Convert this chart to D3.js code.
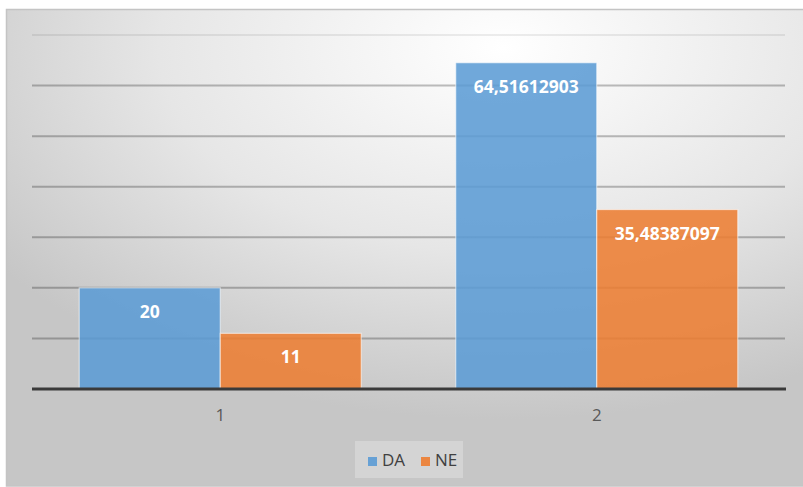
<!DOCTYPE html>
<html>
<head>
<meta charset="utf-8">
<script src="https://cdn.jsdelivr.net/npm/d3@7"></script>
<style>
  html, body { margin: 0; padding: 0; background: #fff; }
  svg { display: block; font-family: "Open Sans", "Noto Sans", sans-serif; }
</style>
</head>
<body>
<div id="chart"></div>
<script>
const categories = ["1", "2"];
const seriesNames = ["DA", "NE"];
const daValues = [20, 64.51612903];
const neValues = [11, 35.48387097];
const yTicks = [0, 10, 20, 30, 40, 50, 60, 70];

const seriesColors = { "DA": "#5B9BD5", "NE": "#ED7D31" };

function init() {
    var w = 803, h = 487;
    var plot = { left: 32, right: 785, top: 35, bottom: 389 };

    var svg = d3.select("#chart").append("svg")
        .attr("width", w)
        .attr("height", h);

    // background gradient like the excel style
    var defs = svg.append("defs");
    var grad = defs.append("radialGradient")
        .attr("id", "bg")
        .attr("cx", "0.62").attr("cy", "0.08").attr("r", "0.78");
    grad.append("stop").attr("offset", "0%").attr("stop-color", "#ffffff");
    grad.append("stop").attr("offset", "55%").attr("stop-color", "#e6e6e6");
    grad.append("stop").attr("offset", "100%").attr("stop-color", "#c6c6c6");

    svg.append("rect")
        .attr("x", 6.5).attr("y", 9.5)
        .attr("width", 800).attr("height", 476.5)
        .attr("fill", "url(#bg)")
        .attr("stroke", "#c4c4c4")
        .attr("stroke-width", 1.5);

    var y = d3.scaleLinear().domain([0, 70]).range([plot.bottom, plot.top]);
    var x0 = d3.scaleBand().domain(categories).range([plot.left, plot.right]);
    var x1 = d3.scaleBand().domain(seriesNames).range([0, x0.bandwidth()]).paddingOuter(0.335);

    // gridlines
    svg.append("g").selectAll("line")
        .data(yTicks.filter(t => t > 0))
        .join("line")
        .attr("x1", plot.left).attr("x2", plot.right)
        .attr("y1", d => y(d)).attr("y2", d => y(d))
        .attr("stroke", "#000")
        .attr("stroke-opacity", d => d === 70 ? 0.07 : 0.25)
        .attr("stroke-width", 2);

    var rows = categories.map((c, i) => ({
        cat: c,
        vals: [{ s: "DA", v: daValues[i] }, { s: "NE", v: neValues[i] }]
    }));

    var groups = svg.append("g").selectAll("g")
        .data(rows)
        .join("g")
        .attr("transform", d => `translate(${x0(d.cat)},0)`);

    groups.selectAll("rect")
        .data(d => d.vals)
        .join("rect")
        .attr("x", d => x1(d.s))
        .attr("y", d => y(d.v))
        .attr("width", x1.bandwidth())
        .attr("height", d => y(0) - y(d.v))
        .attr("fill", d => seriesColors[d.s])
        .attr("fill-opacity", 0.87)
        .attr("stroke", "#ffffff")
        .attr("stroke-opacity", 0.55)
        .attr("stroke-width", 1.2);

    groups.selectAll("text")
        .data(d => d.vals)
        .join("text")
        .attr("x", d => x1(d.s) + x1.bandwidth() / 2)
        .attr("y", d => y(d.v) + 30)
        .attr("text-anchor", "middle")
        .attr("fill", "#fff")
        .attr("font-weight", "bold")
        .attr("font-size", "17.5px")
        .text(d => String(d.v).replace(".", ","));

    // baseline
    svg.append("line")
        .attr("x1", plot.left).attr("x2", plot.right + 1)
        .attr("y1", y(0)).attr("y2", y(0))
        .attr("stroke", "#3a3a3a")
        .attr("stroke-width", 3);

    // category labels
    svg.append("g").selectAll("text")
        .data(categories)
        .join("text")
        .attr("x", d => x0(d) + x0.bandwidth() / 2)
        .attr("y", 421)
        .attr("text-anchor", "middle")
        .attr("fill", "#595959")
        .attr("font-size", "17px")
        .text(d => d);

    // legend
    var legend = svg.append("g");
    legend.append("rect")
        .attr("x", 355).attr("y", 441)
        .attr("width", 108).attr("height", 37)
        .attr("fill", "#fff").attr("fill-opacity", 0.25);

    var legendX = [368, 421];
    var items = legend.selectAll("g")
        .data(seriesNames)
        .join("g")
        .attr("transform", (d, i) => `translate(${legendX[i]},0)`);
    items.append("rect")
        .attr("x", 0).attr("y", 457)
        .attr("width", 9).attr("height", 9)
        .attr("fill", d => seriesColors[d])
        .attr("fill-opacity", 0.9);
    items.append("text")
        .attr("x", 14).attr("y", 466)
        .attr("fill", "#404040")
        .attr("font-size", "17px")
        .text(d => d);
}

window.onload = init;
</script>
</body>
</html>
